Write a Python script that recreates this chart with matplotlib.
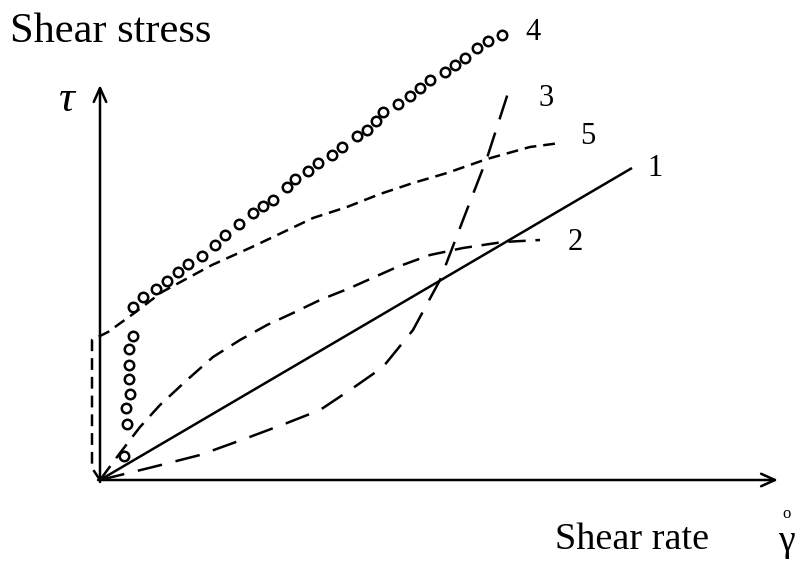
import matplotlib
matplotlib.use("Agg")
import matplotlib.pyplot as plt

plt.rcParams['font.family'] = ['Liberation Serif', 'DejaVu Serif']
plt.rcParams['lines.scale_dashes'] = False

# ---- data (shear rate, shear stress) in arbitrary units ----
line1_x = [0, 532]
line1_y = [0, 312]

curve2_x = [0, 20, 40, 60, 87, 113, 140, 167, 193, 220, 250, 297, 330, 363, 403, 440]
curve2_y = [0, 27, 53, 75, 100, 123, 140, 155, 167, 180, 192, 213, 225, 232, 238, 240]

curve3_x = [0, 53, 100, 147, 187, 220, 253, 283, 313, 340, 363, 387, 408]
curve3_y = [0, 13, 25, 42, 57, 70, 92, 113, 150, 200, 260, 322, 387]

curve4_x = [24, 27, 26, 30, 29, 29, 29, 33, 33, 43, 56, 67, 78, 88, 102, 115, 125, 139,
            153, 163, 173, 187, 195, 208, 218, 232, 242, 257, 267, 276, 283, 298, 310,
            320, 330, 345, 355, 365, 377, 388, 402]
curve4_y = [24, 56, 72, 86, 101, 115, 131, 144, 173, 183, 191, 199, 208, 216, 224, 235,
            245, 256, 267, 274, 280, 293, 301, 309, 317, 325, 333, 344, 350, 359, 368,
            376, 384, 392, 400, 408, 415, 422, 432, 439, 445]

curve5_x = [0, -8, -8, 8, 33, 62, 112, 152, 192, 213, 247, 280, 313, 347, 387, 430, 460]
curve5_y = [0, 12, 140, 148, 166, 188, 215, 233, 252, 262, 273, 286, 297, 307, 321, 333, 337]

labels = ['1', '2', '3', '4', '5']
label_x = [547, 468, 438, 425, 480]
label_y = [312, 238, 382, 448, 343]

x_axis_end = 678
y_axis_end = 395

fig = plt.figure(figsize=(8.02, 5.64), dpi=100)
ax = fig.add_axes([0, 0, 1, 1])
ax.set_xlim(-100, 702)
ax.set_ylim(-84, 480)
ax.axis('off')

lw = 1.8
ax.plot(line1_x, line1_y, color='black', lw=lw, solid_capstyle='butt')
ax.plot(curve2_x, curve2_y, color='black', lw=lw, dashes=(12.5, 7))
ax.plot(curve3_x, curve3_y, color='black', lw=lw, dashes=(18, 10))
ax.plot(curve5_x, curve5_y, color='black', lw=lw, dashes=(8.5, 5))
ax.plot(curve4_x, curve4_y, linestyle='none', marker='o', markersize=6.8,
        markerfacecolor='white', markeredgecolor='black', markeredgewidth=1.8)

# axes arrows
arrow_kw = dict(arrowstyle='->,head_length=1.0,head_width=0.45', color='black', lw=1.8,
                shrinkA=0, shrinkB=0)
ax.annotate('', xy=(x_axis_end, 0), xytext=(-2, 0), arrowprops=arrow_kw)
ax.annotate('', xy=(0, y_axis_end), xytext=(0, -2), arrowprops=arrow_kw)

for lab, lx, ly in zip(labels, label_x, label_y):
    ax.text(lx, ly, lab, fontsize=22, ha='left', va='center')

fig.text(10 / 802, 1 - 32 / 564, 'Shear stress', fontsize=30.5, ha='left', va='center')
fig.text(555 / 802, 1 - 540 / 564, 'Shear rate', fontsize=27.5, ha='left', va='center')
fig.text(66 / 802, 1 - 100 / 564, 'τ', fontsize=32, style='italic', ha='center', va='center')
fig.text(786 / 802, 1 - 542 / 564, 'γ', fontsize=27, ha='center', va='center')
fig.text(787 / 802, 1 - 514 / 564, 'o', fontsize=12, ha='center', va='center')

fig.savefig('out.png', dpi=100)
